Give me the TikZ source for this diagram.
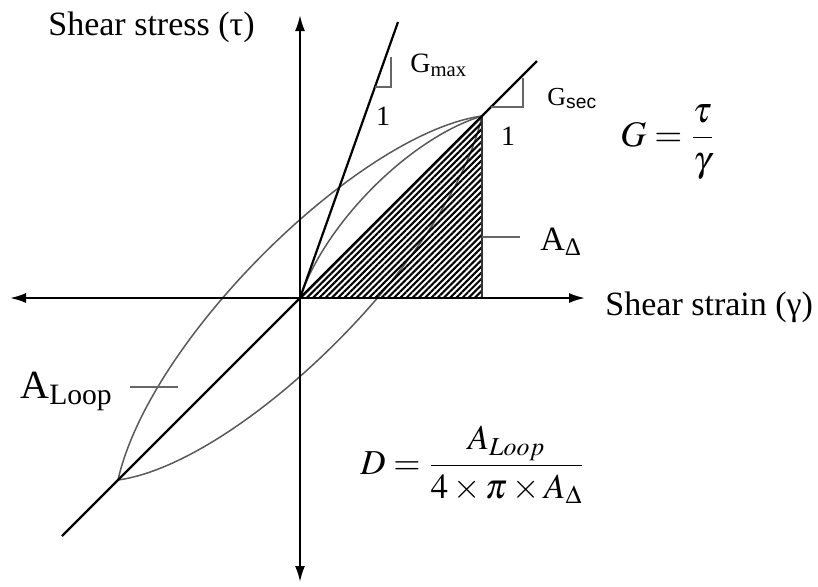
\documentclass[tikz,border=0pt]{standalone}
\usepackage{amsmath}
\usepackage{mathptmx}
\usepackage{fontspec}
\setmainfont{Liberation Serif}
\setsansfont{Liberation Sans}
\usetikzlibrary{arrows.meta, patterns.meta}

\begin{document}
\begin{tikzpicture}[x=0.5pt, y=-0.5pt,
    axis/.style={{Latex[length=8pt,width=5pt]}-{Latex[length=8pt,width=5pt]}, line width=1pt},
    stiff/.style={line width=1.1pt},
    curve/.style={line width=0.75pt, black!65},
    thin/.style={line width=0.6pt, black!60},
    lbl/.style={inner sep=0pt, anchor=base west, font=\fontsize{17}{19}\selectfont}
]
\useasboundingbox (0,0) rectangle (818,586);

% Points
\coordinate (O) at (300,298);
\coordinate (tipP) at (482,116);
\coordinate (tipN) at (118,480);
\coordinate (foot) at (482,298);
\coordinate (left) at (10,298);
\coordinate (right) at (585,298);
\coordinate (top) at (300,15);
\coordinate (bottom) at (300,582);
\coordinate (secA) at (62,536);
\coordinate (secB) at (537,61);
\coordinate (maxB) at (398,22);

% Loop and hatched area
\draw[curve] (tipN) .. controls (240,463) and (450,258) .. (tipP);
\fill[pattern={Lines[angle=45,distance=2.2pt,line width=1.05pt]}] (O) -- (tipP) -- (foot) -- cycle;
\draw[thin, black!80] (tipP) -- (foot);
\draw[curve] (tipN) .. controls (150,338) and (360,133) .. (tipP);
\draw[curve] (O) .. controls (325,223) and (410,138) .. (tipP);

% Axes
\draw[axis] (left) -- (right);
\draw[axis] (bottom) -- (top);

% Moduli
\draw[stiff] (secA) -- (secB);
\draw[stiff] (O) -- (maxB);
\draw[thin] (375,87) -- (391,87) -- (391,57);
\draw[thin] (491,107) -- (523,107) -- (523,78);

% Leaders
\draw[thin] (482,237) -- (520,237);
\draw[thin] (130,387) -- (178,387);

% Labels
\node[lbl] (tauLbl) at (48,35) {Shear stress (τ)};
\node[lbl] (gamLbl) at (605,315) {Shear strain (γ)};
\node[lbl, font=\fontsize{14}{16}\selectfont] (gmax) at (410,72) {G\textsubscript{max}};
\node[lbl, font=\fontsize{13}{15}\selectfont] (gsec) at (547,105) {G\textsubscript{\sffamily sec}};
\node[inner sep=0pt, font=\fontsize{14}{16}\selectfont] (oneMax) at (383,116) {1};
\node[inner sep=0pt, font=\fontsize{14}{16}\selectfont] (oneSec) at (508,136) {1};
\node[lbl, font=\fontsize{17}{19}\selectfont] (aTri) at (540,250) {A\textsubscript{Δ}};
\node[lbl, font=\fontsize{20}{22}\selectfont] (aLoop) at (20,398) {A\textsubscript{Loop}};
\node[inner sep=0pt, anchor=west, font=\fontsize{18}{21}\selectfont] (gEq) at (620,142) {$G=\dfrac{\tau}{\gamma}$};
\node[inner sep=0pt, anchor=west, font=\fontsize{17.5}{20}\selectfont] (dEq) at (360,465) {$D=\dfrac{A_{Loop}}{4\times\pi\times A_\Delta}$};

\end{tikzpicture}
\end{document}
